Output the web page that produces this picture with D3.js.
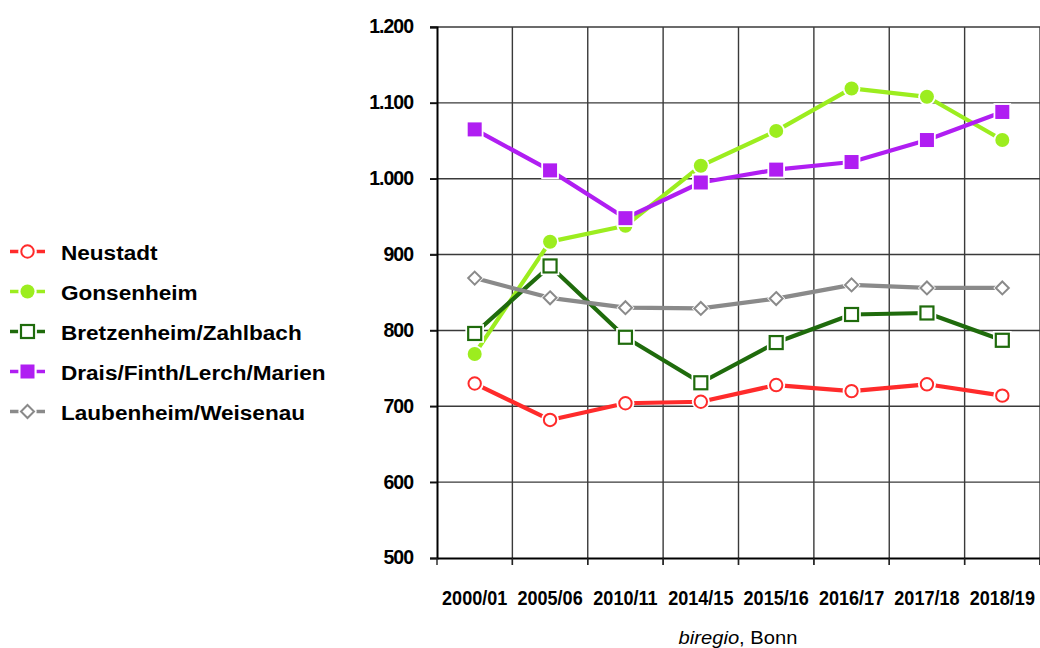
<!DOCTYPE html>
<html>
<head>
<meta charset="utf-8">
<script src="https://cdn.jsdelivr.net/npm/d3@7"></script>
<style>
  html, body { margin: 0; padding: 0; background: #fff; }
  svg { display: block; font-family: "Liberation Sans", Arial, Helvetica, sans-serif; }
</style>
</head>
<body>
<svg id="chart" width="1040" height="648"></svg>
<script>
// ---- data ----
const categories = ["2000/01", "2005/06", "2010/11", "2014/15", "2015/16", "2016/17", "2017/18", "2018/19"];
const seriesNames = ["Neustadt", "Gonsenheim", "Bretzenheim/Zahlbach", "Drais/Finth/Lerch/Marien", "Laubenheim/Weisenau"];
const neustadt    = [730, 682, 704, 706, 728, 720, 729, 714];
const gonsenheim  = [769, 917, 938, 1017, 1063, 1119, 1108, 1051];
const bretzenheim = [796, 885, 791, 731, 784, 821, 823, 787];
const drais       = [1065, 1011, 948, 995, 1012, 1022, 1051, 1088];
const laubenheim  = [869, 843, 830, 829, 842, 860, 856, 856];
const yTicks = [500, 600, 700, 800, 900, 1000, 1100, 1200];
const yTickLabels = ["500", "600", "700", "800", "900", "1.000", "1.100", "1.200"];
const sourceItalic = "biregio";
const sourceRest = ", Bonn";

// ---- styles ----
const styles = [
  { color: "#ff2b2b", shape: "circle", filled: false },
  { color: "#9ced1f", shape: "circle", filled: true },
  { color: "#1f6b0c", shape: "square", filled: false },
  { color: "#b01ef2", shape: "square", filled: true },
  { color: "#8a8a8a", shape: "diamond", filled: false }
];
const allValues = [neustadt, gonsenheim, bretzenheim, drais, laubenheim];

const svg = d3.select("#chart");
const pLeft = 437, pRight = 1040, pTop = 27, pBottom = 558;

const x = d3.scaleBand().domain(categories).range([pLeft, pRight]).paddingInner(0).paddingOuter(0);
const y = d3.scaleLinear().domain([500, 1200]).range([pBottom, pTop]);

// grid
const grid = svg.append("g");
const boundaries = categories.map(c => x(c)).concat([x(categories[categories.length - 1]) + x.bandwidth()]);
grid.selectAll("line.v").data(boundaries.slice(1)).join("line")
  .attr("x1", d => d).attr("x2", d => d)
  .attr("y1", pTop).attr("y2", pBottom + 7)
  .attr("stroke", "#3a3a3a").attr("stroke-width", 1.4);
grid.selectAll("line.h").data(yTicks.slice(1)).join("line")
  .attr("x1", pLeft - 7).attr("x2", pRight)
  .attr("y1", d => y(d)).attr("y2", d => y(d))
  .attr("stroke", "#3a3a3a").attr("stroke-width", 1.4);

// axes
const yAxis = d3.axisLeft(y).tickValues(yTicks).tickSize(7)
  .tickFormat((d, i) => yTickLabels[i]).tickPadding(17);
const gy = svg.append("g").attr("transform", `translate(${pLeft},0)`).call(yAxis);
gy.select(".domain").attr("stroke", "#000").attr("stroke-width", 2);
gy.selectAll(".tick line").attr("stroke", "#111").attr("stroke-width", 1.6);
gy.selectAll(".tick text")
  .attr("font-size", 19.5).attr("font-weight", "bold").attr("fill", "#000")
  .attr("font-family", "'Liberation Sans', Arial, sans-serif")
  .attr("letter-spacing", "-1px")
  .attr("dy", "0.30em");

const xAxis = d3.axisBottom(x).tickSize(0).tickPadding(0);
const gx = svg.append("g").attr("transform", `translate(0,${pBottom})`).call(xAxis);
gx.select(".domain").attr("stroke", "#000").attr("stroke-width", 2);
gx.selectAll(".tick text").remove();
gx.selectAll(".tick").append("text")
  .attr("transform", "translate(0,46.5) scale(0.86,1)")
  .attr("text-anchor", "middle")
  .attr("font-size", 21).attr("font-weight", "bold").attr("fill", "#000")
  .attr("font-family", "'Liberation Sans', Arial, sans-serif")
  .text(d => d);
svg.append("g").selectAll("line").data(boundaries).join("line")
  .attr("x1", d => d).attr("x2", d => d)
  .attr("y1", pBottom).attr("y2", pBottom + 7)
  .attr("stroke", "#222").attr("stroke-width", 1.4);

// marker drawer
function drawMarker(g, st, cx, cy) {
  const halo = 1.8;
  if (st.shape === "circle") {
    const r = st.filled ? 7 : 6.2;
    g.append("circle").attr("cx", cx).attr("cy", cy).attr("r", r + halo + (st.filled ? 0 : 1)).attr("fill", "#fff");
    g.append("circle").attr("cx", cx).attr("cy", cy).attr("r", r)
      .attr("fill", st.filled ? st.color : "#fff")
      .attr("stroke", st.filled ? "none" : st.color).attr("stroke-width", 2);
  } else if (st.shape === "square") {
    const s = st.filled ? 14 : 13;
    const hs = s / 2 + halo + (st.filled ? 0 : 1);
    g.append("rect").attr("x", cx - hs).attr("y", cy - hs).attr("width", 2 * hs).attr("height", 2 * hs).attr("fill", "#fff");
    g.append("rect").attr("x", cx - s / 2).attr("y", cy - s / 2).attr("width", s).attr("height", s)
      .attr("fill", st.filled ? st.color : "#fff")
      .attr("stroke", st.filled ? "none" : st.color).attr("stroke-width", 2.2);
  } else {
    const h = 6.5;
    const pts = (k) => `${cx},${cy - k} ${cx + k},${cy} ${cx},${cy + k} ${cx - k},${cy}`;
    g.append("polygon").attr("points", pts(h + 2.5)).attr("fill", "#fff");
    g.append("polygon").attr("points", pts(h)).attr("fill", "#fff")
      .attr("stroke", st.color).attr("stroke-width", 2);
  }
}

// series
const line = d3.line().x((d, i) => x(categories[i]) + x.bandwidth() / 2).y(d => y(d));
seriesNames.forEach((name, si) => {
  const st = styles[si];
  const vals = allValues[si];
  const g = svg.append("g");
  g.append("path").datum(vals).attr("d", line)
    .attr("fill", "none").attr("stroke", st.color).attr("stroke-width", 4.2)
    .attr("stroke-linejoin", "round");
  vals.forEach((v, i) => drawMarker(g, st, x(categories[i]) + x.bandwidth() / 2, y(v)));
});

// legend
const legend = svg.append("g");
seriesNames.forEach((name, si) => {
  const st = styles[si];
  const cy = 251.5 + si * 40;
  const g = legend.append("g");
  g.append("line").attr("x1", 10).attr("x2", 18.5).attr("y1", cy).attr("y2", cy)
    .attr("stroke", st.color).attr("stroke-width", 3.5);
  g.append("line").attr("x1", 36.5).attr("x2", 45).attr("y1", cy).attr("y2", cy)
    .attr("stroke", st.color).attr("stroke-width", 3.5);
  drawMarker(g, st, 27.5, cy);
  g.append("text")
    .attr("transform", `translate(61,${cy + 8}) scale(1.14,1)`)
    .attr("font-size", 19.8).attr("font-weight", "bold").attr("fill", "#000")
    .text(name);
});

// source caption
const cap = svg.append("text")
  .attr("transform", "translate(738,644) scale(1.12,1)")
  .attr("text-anchor", "middle")
  .attr("font-size", 18).attr("fill", "#000");
cap.append("tspan").attr("font-style", "italic").text(sourceItalic);
cap.append("tspan").text(sourceRest);
</script>
</body>
</html>
